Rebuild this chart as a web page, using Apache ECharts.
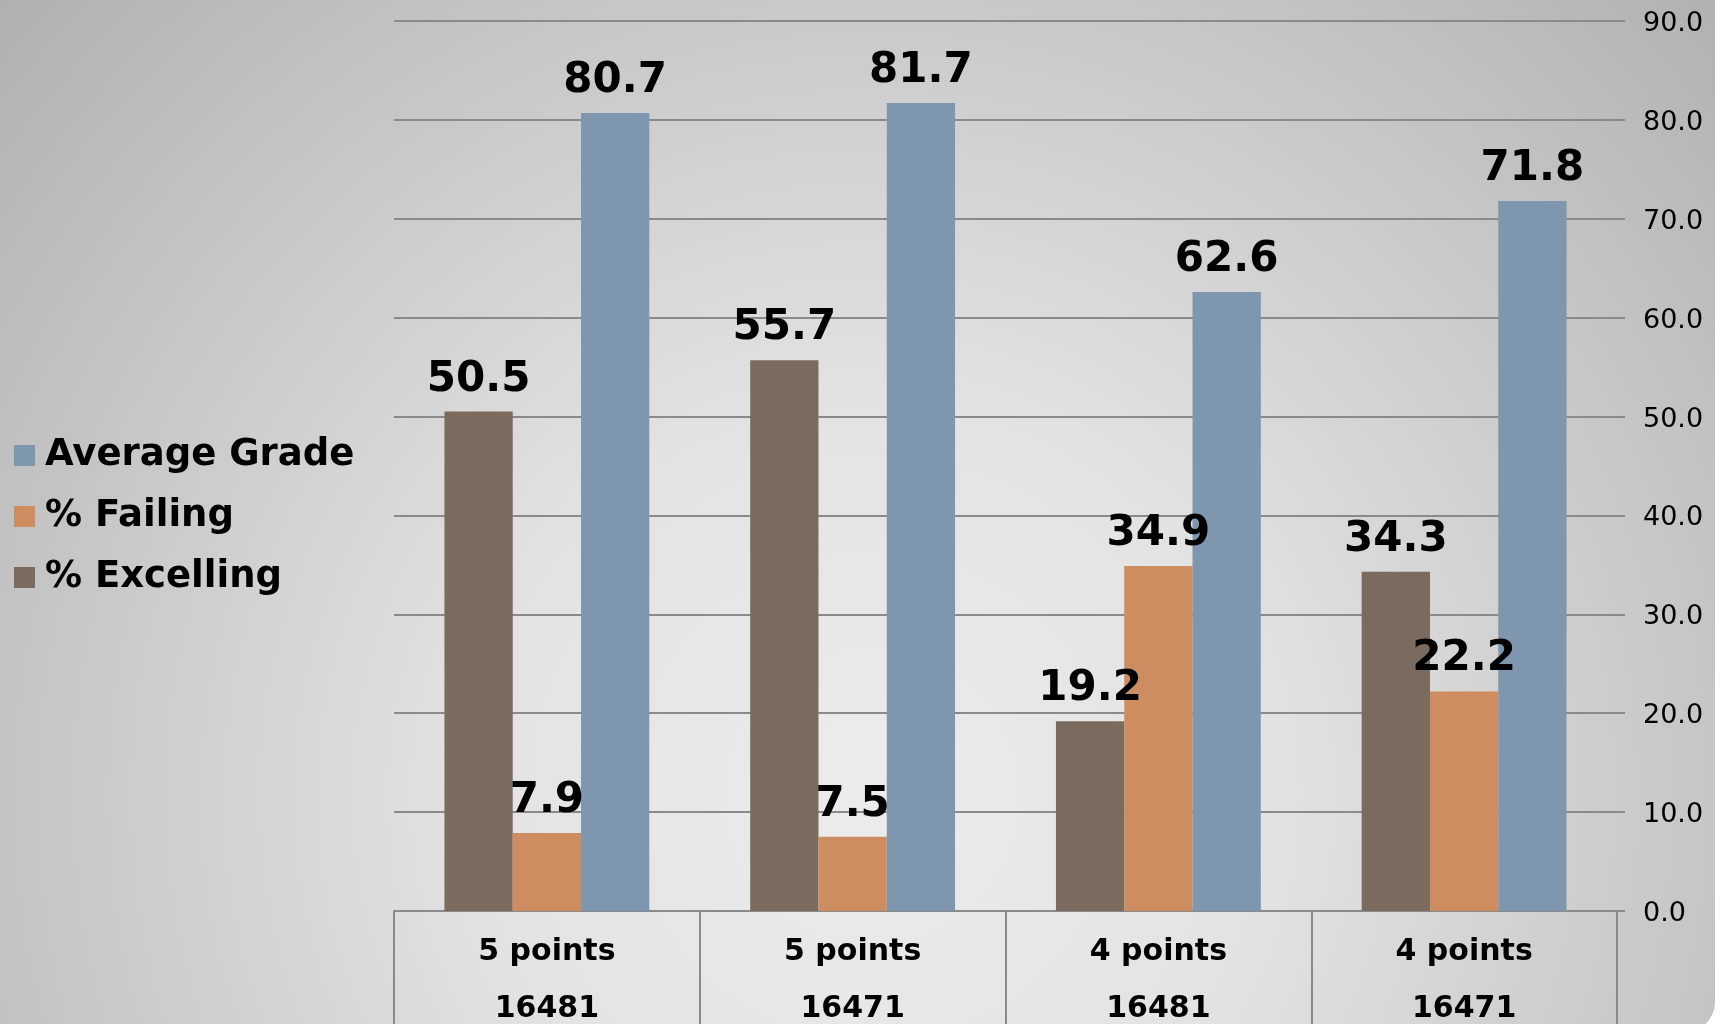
<!DOCTYPE html>
<html>
<head>
<meta charset="utf-8">
<script src="https://cdn.jsdelivr.net/npm/echarts@6/dist/echarts.min.js"></script>
<style>
html,body{margin:0;padding:0;background:#ffffff;}
#c{width:1721px;height:1024px;}
</style>
</head>
<body>
<div id="c"></div>
<script>
const categories = ['5 points\n16481', '5 points\n16471', '4 points\n16481', '4 points\n16471'];
const excelling = [50.5, 55.7, 19.2, 34.3];
const failing = [7.9, 7.5, 34.9, 22.2];
const averageGrade = [80.7, 81.7, 62.6, 71.8];
const seriesNames = ['% Excelling', '% Failing', 'Average Grade'];
const legendOrder = ['Average Grade', '% Failing', '% Excelling'];
const yTicks = {min: 0, max: 90, interval: 10};

const FONT = 'DejaVu Sans';
const colors = ['#7b6a5e', '#cd8d60', '#7f97ae'];
const chart = echarts.init(document.getElementById('c'), null, {renderer: 'canvas'});

const labelStyle = {
  show: true, position: 'top', distance: 11,
  fontFamily: FONT, fontWeight: 'bold', fontSize: 42, color: '#000',
  formatter: p => p.value.toFixed(1)
};

function mkSeries(name, data, color) {
  return {
    name, type: 'bar', data,
    barGap: '0%', barCategoryGap: '33%',
    itemStyle: {color},
    label: labelStyle,
    emphasis: {disabled: true}
  };
}

chart.setOption({
  backgroundColor: 'transparent',
  animation: false,
  graphic: [{
    type: 'rect', z: -10, silent: true,
    shape: {x: -40, y: -40, width: 1755, height: 1072, r: 30},
    style: {
      fill: new echarts.graphic.RadialGradient(0.52, 0.78, 1.2, [
        {offset: 0, color: '#ececec'},
        {offset: 0.3, color: '#e3e3e3'},
        {offset: 1, color: '#a9a9a9'}
      ])
    }
  }],
  legend: {
    data: legendOrder,
    orient: 'vertical',
    left: 9, top: 432,
    itemWidth: 21, itemHeight: 21, itemGap: 24,
    icon: 'rect',
    textStyle: {fontFamily: FONT, fontWeight: 'bold', fontSize: 37, color: '#000', padding: [0, 0, 0, 5]}
  },
  grid: {left: 394, right: 104, top: 21, bottom: 113, containLabel: false, outerBoundsMode: 'none'},
  xAxis: {
    type: 'category',
    data: categories,
    axisLine: {show: true, lineStyle: {color: '#8a8a8a', width: 2}},
    axisTick: {show: true, length: 125, alignWithLabel: false, lineStyle: {color: '#8a8a8a', width: 2}},
    axisLabel: {
      fontFamily: FONT, fontWeight: 'bold', fontSize: 30, color: '#000',
      lineHeight: 57, margin: 13, interval: 0
    }
  },
  yAxis: {
    type: 'value', position: 'right',
    min: yTicks.min, max: yTicks.max, interval: yTicks.interval,
    axisLine: {show: false},
    axisTick: {show: true, length: 8, lineStyle: {color: '#8a8a8a', width: 2}},
    splitLine: {show: true, lineStyle: {color: '#8a8a8a', width: 2}},
    axisLabel: {
      fontFamily: FONT, fontSize: 27, color: '#000', margin: 26,
      formatter: v => '{v|' + v.toFixed(1) + '}',
      rich: {v: {fontFamily: FONT, fontSize: 27, color: '#000', padding: [6, 0, 0, 0]}}
    }
  },
  series: [
    mkSeries(seriesNames[0], excelling, colors[0]),
    mkSeries(seriesNames[1], failing, colors[1]),
    mkSeries(seriesNames[2], averageGrade, colors[2])
  ]
});
</script>
</body>
</html>
